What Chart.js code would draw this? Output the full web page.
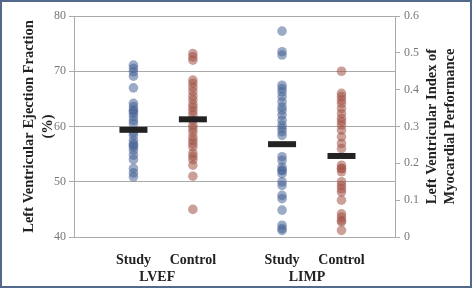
<!DOCTYPE html>
<html>
<head>
<meta charset="utf-8">
<script src="https://cdn.jsdelivr.net/npm/chart.js@4/dist/chart.umd.min.js"></script>
<style>
  html, body { margin: 0; padding: 0; background: #fff; }
  #wrap { width: 472px; height: 289px; position: relative; }
  canvas { display: block; }
</style>
</head>
<body>
<div id="wrap"><canvas id="grafico"></canvas></div>
<script>
// categorias e grupos
const categorias = ["Study", "Control", "Study", "Control"];
const grupos = ["LVEF", "LIMP"];

// LVEF (%) - eixo esquerdo
const lvefStudy = [71.1, 70.5, 69.9, 69.1, 67.0, 64.2, 63.6, 63.0, 62.8, 62.4, 61.8, 61.1, 60.5, 59.0, 58.4,
                   57.5, 56.9, 56.6, 56.3, 55.7, 54.8, 54.0, 52.4, 51.6, 50.9];
const lvefControl = [73.2, 72.6, 72.0, 68.4, 67.8, 67.1, 66.3, 65.5, 64.8, 64.0, 63.4, 62.8, 62.1, 61.1, 60.2,
                     59.6, 59.0, 58.1, 57.5, 56.9, 56.3, 55.2, 54.6, 54.0, 53.0, 51.0, 45.0];
const lvefMedias = [59.4, 61.3];

// LIMP - eixo direito
const limpStudy = [0.559, 0.503, 0.494, 0.412, 0.403, 0.394, 0.381, 0.367, 0.353, 0.344, 0.331, 0.317, 0.304,
                   0.295, 0.286, 0.276, 0.218, 0.208, 0.190, 0.181, 0.181, 0.172, 0.150, 0.140, 0.113, 0.104,
                   0.073, 0.032, 0.023, 0.018];
const limpControl = [0.450, 0.390, 0.381, 0.372, 0.363, 0.349, 0.335, 0.322, 0.313, 0.304, 0.290, 0.272, 0.254,
                     0.240, 0.195, 0.186, 0.186, 0.177, 0.150, 0.140, 0.131, 0.122, 0.100, 0.063, 0.054, 0.045,
                     0.041, 0.018];
const limpMedias = [0.252, 0.220];

const lvefTicks = [40, 50, 60, 70, 80];
const limpTicks = [0, 0.1, 0.2, 0.3, 0.4, 0.5, 0.6];

// posicao horizontal de cada categoria / grupo
const posCat = [1, 2, 3.5, 4.5];
const posGrupo = [1.4, 3.92];

const azul = "rgba(72, 100, 150, 0.55)";
const vermelho = "rgba(160, 82, 70, 0.55)";
const serif = "'Liberation Serif', 'DejaVu Serif', serif";

const dots = (vals, x, cor, eixo) => ({
    data: vals.map(v => ({ x: x, y: v })), yAxisID: eixo, order: 2,
    pointRadius: 4.8, pointBackgroundColor: cor, pointBorderWidth: 0, showLine: false
});
const media = (vals, xs, eixo) => ({
    data: vals.map((v, i) => ({ x: xs[i], y: v })), yAxisID: eixo, order: 1,
    pointStyle: "line", pointRadius: 14, pointBorderColor: "#222", pointBorderWidth: 6, showLine: false
});

// titulos dos eixos, grupos e moldura
const extras = {
    id: "extras",
    afterDraw(chart) {
        const ctx = chart.ctx;
        const a = chart.chartArea;
        const cy = (a.top + a.bottom) / 2;
        ctx.save();
        ctx.fillStyle = "#222";
        ctx.font = "bold 14.5px " + serif;
        ctx.textAlign = "center";
        ctx.textBaseline = "middle";
        [["Left Ventricular Ejection Fraction", 29], ["(%)", 48],
         ["Left Ventricular Index of", 432], ["Myocardial Performance", 450]].forEach(([t, x]) => {
            ctx.save();
            ctx.translate(x, cy);
            ctx.rotate(-Math.PI / 2);
            ctx.fillText(t, 0, 0);
            ctx.restore();
        });
        ctx.font = "bold 14px " + serif;
        grupos.forEach((g, i) => ctx.fillText(g, chart.scales.x.getPixelForValue(posGrupo[i]), 277));
        ctx.strokeStyle = "#52698c";
        ctx.lineWidth = 2;
        ctx.strokeRect(1, 1, chart.width - 2, chart.height - 3);
        ctx.restore();
    }
};

new Chart(document.getElementById("grafico"), {
    type: "scatter",
    data: {
        datasets: [
            media(lvefMedias, posCat.slice(0, 2), "y"),
            media(limpMedias, posCat.slice(2), "y2"),
            dots(lvefStudy, posCat[0], azul, "y"),
            dots(lvefControl, posCat[1], vermelho, "y"),
            dots(limpStudy, posCat[2], azul, "y2"),
            dots(limpControl, posCat[3], vermelho, "y2")
        ]
    },
    options: {
        responsive: true, maintainAspectRatio: false, animation: false,
        layout: { autoPadding: false, padding: { top: 16, left: 0, right: 0, bottom: 0 } },
        plugins: { legend: { display: false }, tooltip: { enabled: false } },
        scales: {
            x: {
                type: "linear", min: 0, max: 5.4, position: "bottom",
                afterBuildTicks: s => { s.ticks = posCat.map(v => ({ value: v })); },
                afterFit: s => { s.height = 52; },
                ticks: { autoSkip: false, maxRotation: 0, padding: 7, color: "#222",
                         font: { family: serif, size: 14, weight: "bold" },
                         callback: (v, i) => categorias[i] },
                grid: { display: false }, border: { display: false }
            },
            y: {
                position: "left", min: 40, max: 80,
                afterBuildTicks: s => { s.ticks = lvefTicks.map(v => ({ value: v })); },
                afterFit: s => { s.width = 74; },
                ticks: { color: "#777", padding: 3, font: { family: serif, size: 12 } },
                grid: { color: "#aaa", lineWidth: 1, tickLength: 5 },
                border: { color: "#aaa" }
            },
            y2: {
                position: "right", min: 0, max: 0.6,
                afterBuildTicks: s => { s.ticks = limpTicks.map(v => ({ value: v })); },
                afterFit: s => { s.width = 77; },
                ticks: { color: "#777", padding: 4, font: { family: serif, size: 12 },
                         callback: v => v === 0 ? "0" : v.toFixed(1) },
                grid: { drawOnChartArea: false, color: "#aaa", tickLength: 5 },
                border: { color: "#aaa" }
            }
        }
    },
    plugins: [extras]
});
</script>
</body>
</html>
